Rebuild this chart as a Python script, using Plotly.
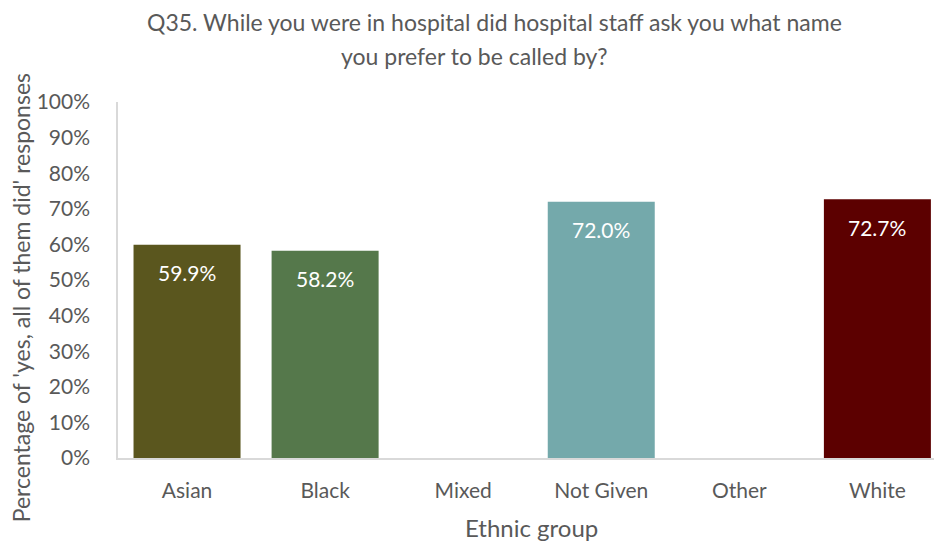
import plotly.graph_objects as go

categories = ["Asian", "Black", "Mixed", "Not Given", "Other", "White"]
values = [0.599, 0.582, None, 0.720, None, 0.727]
colors = ["#5a561e", "#55784b", "#9e9e9e", "#74a9ab", "#888888", "#5c0000"]

title_lines = [
    "Q35. While you were in hospital did hospital staff ask you what name",
    "you prefer to be called by?",
]
y_title = "Percentage of 'yes, all of them did' responses"
x_title = "Ethnic group"

FONT = "Lato, Carlito, Calibri, sans-serif"
GREY = "#595959"

W, H = 934, 545
L, R, T, B = 117.5, 0, 102, 86.5

fig = go.Figure(
    go.Bar(
        x=categories,
        y=values,
        marker=dict(color=colors, line=dict(width=0)),
        width=0.775,
        hoverinfo="x+y",
    )
)

# value labels inside the bars, just below the top
for cat, v in zip(categories, values):
    if v is None:
        continue
    fig.add_annotation(
        x=cat, y=v, xref="x", yref="y",
        text=f"{v * 100:.1f}%",
        showarrow=False, yanchor="middle", yshift=-28,
        font=dict(family=FONT, size=21, color="white"),
    )

# page-level text, positioned in pixels (x from left, y from top)
page_text = [
    (title_lines[0], 494, 22, 0, 23),
    (title_lines[1], 474, 56, 0, 23),
    (y_title, 20, 298, -90, 23),
    (x_title, 531, 528, 0, 24),
]
pw, ph = W - L - R, H - T - B
for text, px, py, angle, size in page_text:
    fig.add_annotation(
        x=(px - L) / pw, y=((H - py) - B) / ph,
        xref="paper", yref="paper",
        xanchor="center", yanchor="middle",
        text=text, textangle=angle, showarrow=False,
        font=dict(family=FONT, size=size, color=GREY),
    )

fig.update_layout(
    width=W, height=H,
    margin=dict(l=L, r=R, t=T, b=B, pad=0),
    paper_bgcolor="white", plot_bgcolor="white",
    showlegend=False,
    font=dict(family=FONT, color=GREY),
    bargap=0.225,
)
fig.update_xaxes(
    type="category", range=[-0.5, 5.41],
    showline=True, linecolor="#d9d9d9", linewidth=1.5,
    showgrid=False, ticks="", ticklen=0,
    tickfont=dict(family=FONT, size=21, color=GREY),
    ticklabelstandoff=13,
)
fig.update_yaxes(
    range=[0, 1], dtick=0.1, tickformat=".0%",
    showline=True, linecolor="#d9d9d9", linewidth=1.5,
    showgrid=False, zeroline=False, ticks="",
    tickfont=dict(family=FONT, size=21, color=GREY),
    ticklabelstandoff=22,
)

fig.write_html("out.html")
